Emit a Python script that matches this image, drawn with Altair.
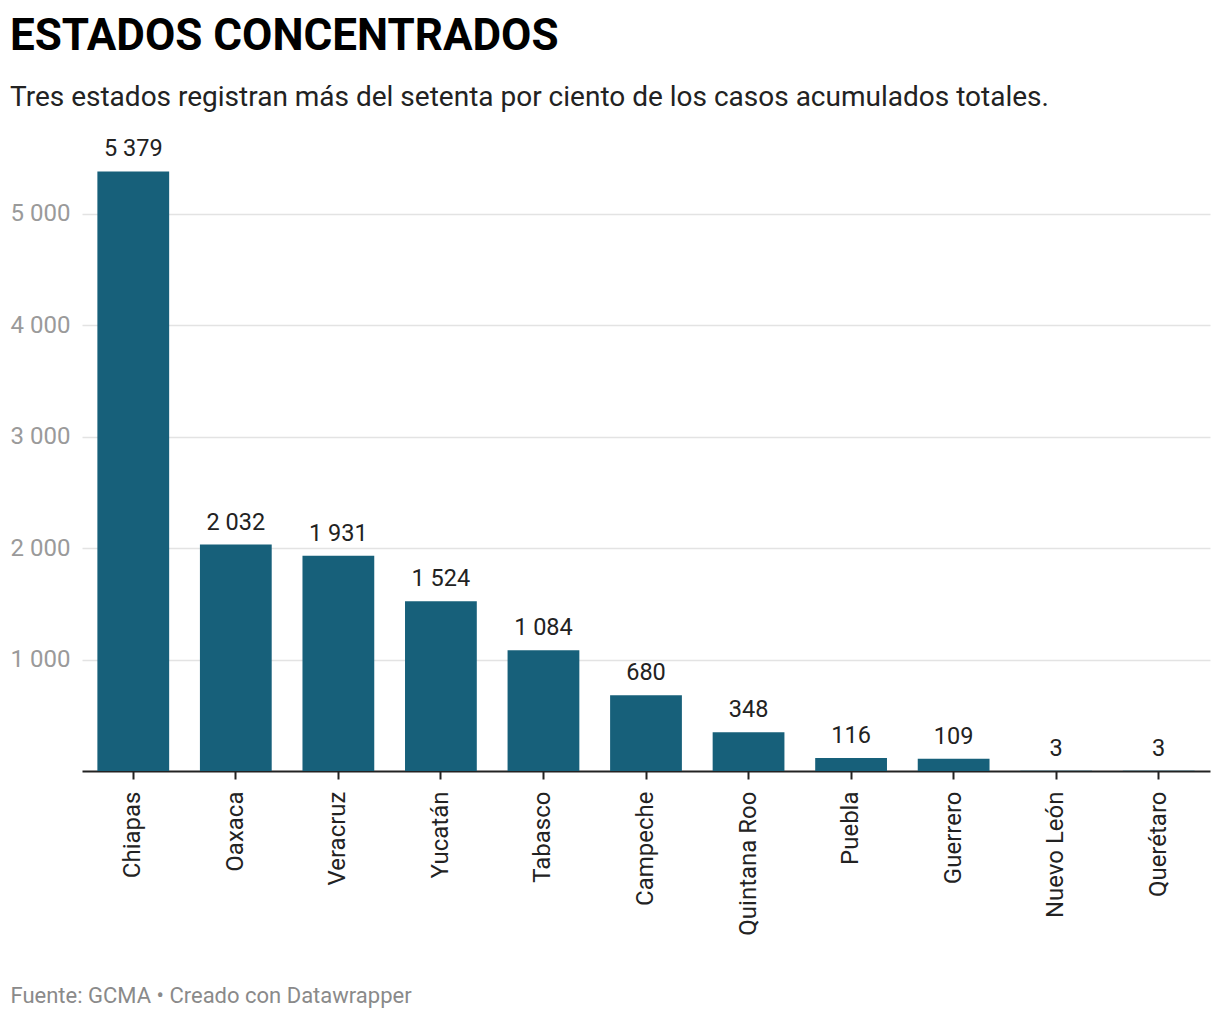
import altair as alt
import pandas as pd

states = ["Chiapas", "Oaxaca", "Veracruz", "Yucatán", "Tabasco", "Campeche",
          "Quintana Roo", "Puebla", "Guerrero", "Nuevo León", "Querétaro"]
cases = [5379, 2032, 1931, 1524, 1084, 680, 348, 116, 109, 3, 3]
y_ticks = [1000, 2000, 3000, 4000, 5000]

df = pd.DataFrame({"estado": states, "casos": cases})
df["etiqueta"] = [f"{v:,}".replace(",", " ") for v in cases]

FONT = "Roboto"

base = alt.Chart(df).encode(
    x=alt.X(
        "estado:N",
        sort=states,
        scale=alt.Scale(paddingInner=0.3, paddingOuter=0.15),
        axis=alt.Axis(
            title="Fuente: GCMA • Creado con Datawrapper",
            titleFont=FONT, titleFontSize=22, titleFontWeight="normal",
            titleColor="#8a8a8a", titleAnchor="start", titleAlign="left",
            titleX=-72, titleY=231, titleBaseline="alphabetic",
            labelAngle=-90, labelFont=FONT, labelFontSize=24, labelColor="#222222",
            labelPadding=12, tickSize=8, tickWidth=2, tickColor="#222222",
            domainColor="#222222", domainWidth=2, grid=False,
        ),
    ),
)

bars = base.mark_bar(color="#17607a").encode(
    y=alt.Y(
        "casos:Q",
        scale=alt.Scale(domain=[0, 5500], nice=False),
        axis=alt.Axis(
            title=None, values=y_ticks,
            labelExpr="replace(format(datum.value, ','), ',', ' ')",
            labelFont=FONT, labelFontSize=24, labelColor="#9a9a9a",
            labelPadding=12, tickSize=0, domain=False,
            grid=True, gridColor="#e3e3e3", gridWidth=1.5,
        ),
    )
)

labels = base.mark_text(
    font=FONT, fontSize=23.5, color="#222222", baseline="alphabetic", dy=-15
).encode(y="casos:Q", text="etiqueta:N")

chart = (
    alt.layer(bars, labels)
    .properties(
        width=1128,
        height=613,
        autosize=alt.AutoSizeParams(type="none"),
        padding={"left": 74, "top": 150, "right": 2, "bottom": 240},
        title=alt.TitleParams(
            text="ESTADOS CONCENTRADOS",
            subtitle="Tres estados registran más del setenta por ciento de los casos acumulados totales.",
            anchor="start", frame="group", dx=-72,
            font=FONT, fontSize=44, fontWeight="bold", color="#000000",
            subtitleFont=FONT, subtitleFontSize=28, subtitleColor="#222222",
            subtitlePadding=25, offset=25,
        ),
    )
    .configure_view(stroke=None)
)

chart.save("out.html", embed_options={"renderer": "svg", "actions": False})
